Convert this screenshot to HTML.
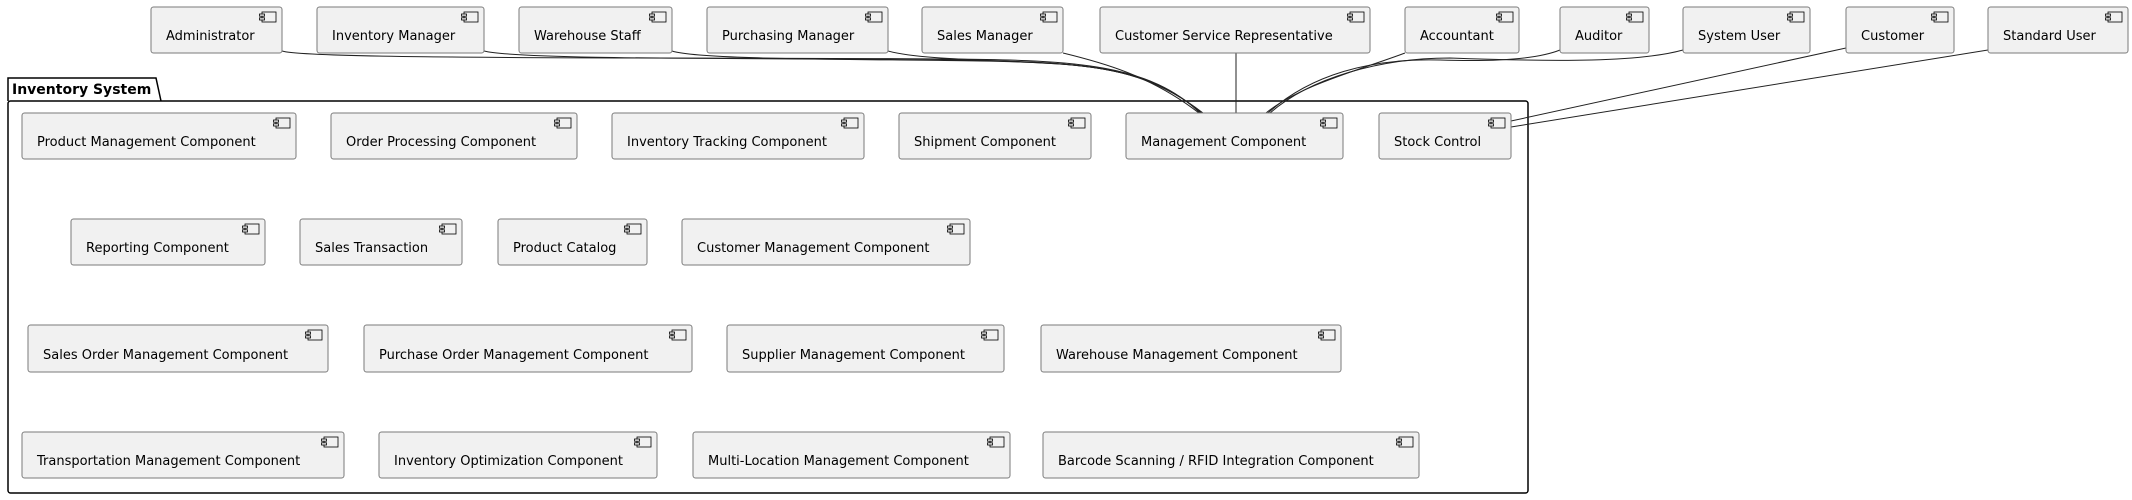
<!DOCTYPE html>
<html><head><meta charset="utf-8"><style>
html,body{margin:0;padding:0;background:#fff;}
svg{display:block;}
text{font-family:"DejaVu Sans","Liberation Sans",sans-serif;font-size:13px;fill:#000;}
</style></head><body>
<svg width="2132" height="500" viewBox="0 0 2132 500" xmlns="http://www.w3.org/2000/svg">
<defs>
<g id="ic"><rect x="0" y="0" width="14" height="10" fill="#f1f1f1" stroke="#000" stroke-width="0.8"/><rect x="-2.5" y="2" width="5" height="2.2" fill="#f1f1f1" stroke="#000" stroke-width="0.8"/><rect x="-2.5" y="5.8" width="5" height="2.2" fill="#f1f1f1" stroke="#000" stroke-width="0.8"/></g>
</defs>
<path d="M8,101 L8,78 L156,78 L161,101" fill="#fff" stroke="#000" stroke-width="1.5"/>
<rect x="8" y="101" width="1520" height="392" rx="2.5" fill="none" stroke="#000" stroke-width="1.5"/>
<text x="12" y="94" style="font-weight:bold;font-size:14px">Inventory System</text>

<g fill="none" stroke="#222" stroke-width="1">
<path d="M282,51 C310,60 700,57 950,59 C1080,60 1150,65 1200,113"/>
<path d="M484,51 C520,60 760,58 960,60 C1090,62 1150,68 1201,113"/>
<path d="M672,51 C700,60 860,59 980,61 C1100,63 1150,70 1202,113"/>
<path d="M888,51 C920,60 1000,60 1060,64 C1120,68 1160,80 1203,113"/>
<path d="M1063,53 C1100,62 1150,75 1199,113"/>
<path d="M1236,53 L1236,113"/>
<path d="M1405,53 C1360,70 1300,85 1266,113"/>
<path d="M1560,50 C1540,58 1500,62 1440,60 C1370,58 1310,75 1268,113"/>
<path d="M1683,50 C1640,62 1560,62 1450,58 C1380,58 1310,78 1270,113"/>
<path d="M1846,48 L1511,121"/>
<path d="M1988,50 L1511,127"/>
</g>

<g fill="#f1f1f1" stroke="#7a7a7a" stroke-width="1">
<rect x="151" y="7" width="131" height="46" rx="2.5"/>
<rect x="317" y="7" width="167" height="46" rx="2.5"/>
<rect x="519" y="7" width="153" height="46" rx="2.5"/>
<rect x="707" y="7" width="181" height="46" rx="2.5"/>
<rect x="922" y="7" width="141" height="46" rx="2.5"/>
<rect x="1100" y="7" width="270" height="46" rx="2.5"/>
<rect x="1405" y="7" width="114" height="46" rx="2.5"/>
<rect x="1560" y="7" width="89" height="46" rx="2.5"/>
<rect x="1683" y="7" width="127" height="46" rx="2.5"/>
<rect x="1846" y="7" width="108" height="46" rx="2.5"/>
<rect x="1988" y="7" width="140" height="46" rx="2.5"/>
<rect x="22" y="113" width="274" height="46" rx="2.5"/>
<rect x="331" y="113" width="246" height="46" rx="2.5"/>
<rect x="612" y="113" width="252" height="46" rx="2.5"/>
<rect x="899" y="113" width="192" height="46" rx="2.5"/>
<rect x="1126" y="113" width="217" height="46" rx="2.5"/>
<rect x="1379" y="113" width="132" height="46" rx="2.5"/>
<rect x="71" y="219" width="194" height="46" rx="2.5"/>
<rect x="300" y="219" width="162" height="46" rx="2.5"/>
<rect x="498" y="219" width="149" height="46" rx="2.5"/>
<rect x="682" y="219" width="288" height="46" rx="2.5"/>
<rect x="28" y="325" width="300" height="47" rx="2.5"/>
<rect x="364" y="325" width="328" height="47" rx="2.5"/>
<rect x="727" y="325" width="277" height="47" rx="2.5"/>
<rect x="1041" y="325" width="300" height="47" rx="2.5"/>
<rect x="22" y="432" width="322" height="46" rx="2.5"/>
<rect x="379" y="432" width="278" height="46" rx="2.5"/>
<rect x="693" y="432" width="317" height="46" rx="2.5"/>
<rect x="1043" y="432" width="376" height="46" rx="2.5"/>
</g>

<g>
<use href="#ic" x="262" y="12"/><use href="#ic" x="464" y="12"/><use href="#ic" x="652" y="12"/><use href="#ic" x="868" y="12"/><use href="#ic" x="1043" y="12"/><use href="#ic" x="1350" y="12"/><use href="#ic" x="1499" y="12"/><use href="#ic" x="1629" y="12"/><use href="#ic" x="1790" y="12"/><use href="#ic" x="1934" y="12"/><use href="#ic" x="2108" y="12"/>
<use href="#ic" x="276" y="118"/><use href="#ic" x="557" y="118"/><use href="#ic" x="844" y="118"/><use href="#ic" x="1071" y="118"/><use href="#ic" x="1323" y="118"/><use href="#ic" x="1491" y="118"/>
<use href="#ic" x="245" y="224"/><use href="#ic" x="442" y="224"/><use href="#ic" x="627" y="224"/><use href="#ic" x="950" y="224"/>
<use href="#ic" x="308" y="330"/><use href="#ic" x="672" y="330"/><use href="#ic" x="984" y="330"/><use href="#ic" x="1321" y="330"/>
<use href="#ic" x="324" y="437"/><use href="#ic" x="637" y="437"/><use href="#ic" x="990" y="437"/><use href="#ic" x="1399" y="437"/>
</g>

<g>
<text x="166" y="40">Administrator</text>
<text x="332" y="40">Inventory Manager</text>
<text x="534" y="40">Warehouse Staff</text>
<text x="722" y="40">Purchasing Manager</text>
<text x="937" y="40">Sales Manager</text>
<text x="1115" y="40">Customer Service Representative</text>
<text x="1420" y="40">Accountant</text>
<text x="1575" y="40">Auditor</text>
<text x="1698" y="40">System User</text>
<text x="1861" y="40">Customer</text>
<text x="2003" y="40">Standard User</text>

<text x="37" y="146">Product Management Component</text>
<text x="346" y="146">Order Processing Component</text>
<text x="627" y="146">Inventory Tracking Component</text>
<text x="914" y="146">Shipment Component</text>
<text x="1141" y="146">Management Component</text>
<text x="1394" y="146">Stock Control</text>

<text x="86" y="252">Reporting Component</text>
<text x="315" y="252">Sales Transaction</text>
<text x="513" y="252">Product Catalog</text>
<text x="697" y="252">Customer Management Component</text>

<text x="43" y="359">Sales Order Management Component</text>
<text x="379" y="359">Purchase Order Management Component</text>
<text x="742" y="359">Supplier Management Component</text>
<text x="1056" y="359">Warehouse Management Component</text>

<text x="37" y="465">Transportation Management Component</text>
<text x="394" y="465">Inventory Optimization Component</text>
<text x="708" y="465">Multi-Location Management Component</text>
<text x="1058" y="465">Barcode Scanning / RFID Integration Component</text>
</g>
</svg>
</body></html>
